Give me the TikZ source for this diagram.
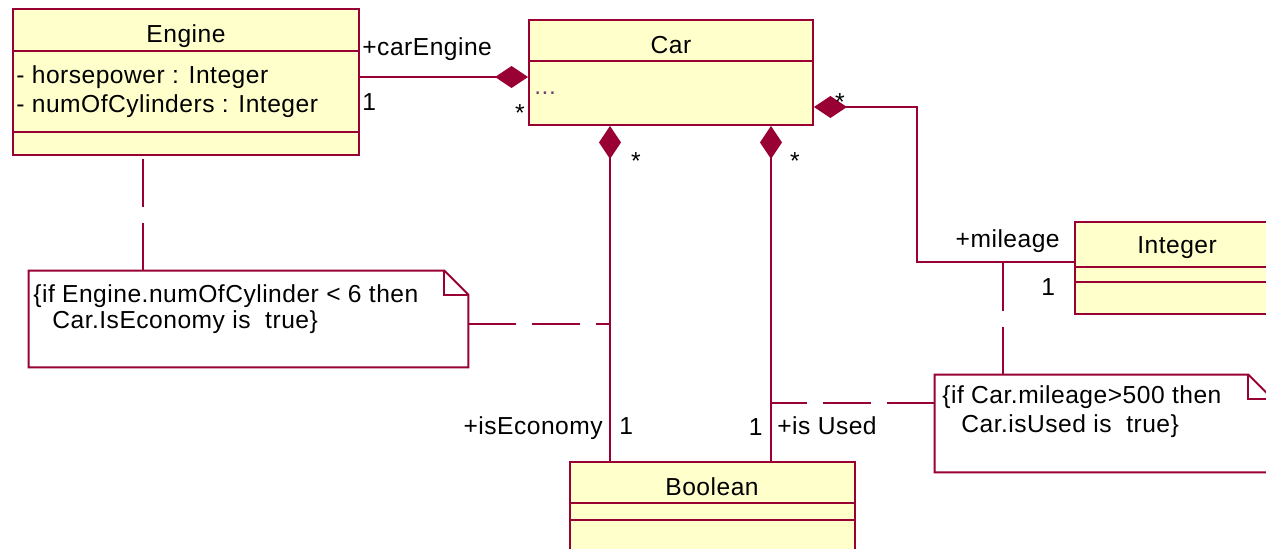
\documentclass[tikz,border=0pt]{standalone}
\usepackage{fontspec}
\setmainfont{Liberation Sans}[LetterSpace=2]
\usetikzlibrary{arrows.meta,fit,calc}

\definecolor{umlred}{RGB}{153,0,51}
\definecolor{umlfill}{RGB}{255,255,204}
\definecolor{umldots}{RGB}{110,70,110}

\tikzset{
    classbox/.style={draw=umlred, fill=umlfill, line width=1.1pt, inner sep=0pt},
    umlline/.style={draw=umlred, line width=1.1pt},
    anchorline/.style={umlline, dash pattern=on 0.96cm off 0.32cm},
    composite/.style={umlline, -{Diamond[length=0.66cm, width=0.44cm]}},
    txt/.style={inner sep=0pt, font=\fontsize{14}{17}\selectfont, anchor=base west},
}

\begin{document}
\begin{tikzpicture}[x=0.02cm, y=-0.02cm]

\useasboundingbox (0,0) rectangle (1266,548);
\clip (0,0) rectangle (1266,548);

% classes
\node[classbox, fit={(13,9) (359,155)}] (engine) {};
\node[classbox, fit={(529,20) (813,125)}] (car) {};
\node[classbox, fit={(1075,222) (1280,314)}] (integer) {};
\node[classbox, fit={(570,462) (855,570)}] (boolean) {};

% compartments
\foreach \cls/\d in {engine/43, engine/124, car/42, integer/46, integer/61, boolean/42, boolean/59}
{
    \draw[umlline] ($(\cls.north west)+(0,\d)$) -- ($(\cls.north east)+(0,\d)$);
}

\node[txt, anchor=base] (engineName) at (186,42) {Engine};
\node[txt] (engineHp) at (16,83) {- horsepower : Integer};
\node[txt] (engineCyl) at (16,112) {- numOfCylinders : Integer};
\node[txt, anchor=base] (carName) at (671,53) {Car};
\node[txt, text=umldots] (carDots) at (534,94) {...};
\node[txt, anchor=base] (integerName) at (1177,253) {Integer};
\node[txt, anchor=base] (booleanName) at (712,495) {Boolean};

% notes
\node[fit={(29,271) (468,367)}, inner sep=0pt] (noteEconomy) {};
\node[fit={(935,375) (1272,472)}, inner sep=0pt] (noteUsed) {};
\foreach \n in {noteEconomy, noteUsed}
{
    \draw[umlline, fill=white] (\n.north west) -- ($(\n.north east)+(-24,0)$)
        -- ($(\n.north east)+(0,24)$) -- (\n.south east) -- (\n.south west) -- cycle;
    \draw[umlline] ($(\n.north east)+(-24,0)$) |- ($(\n.north east)+(0,24)$);
}

\node[txt] (noteEconomyA) at (33,302) {\{if Engine.numOfCylinder < 6 then};
\node[txt] (noteEconomyB) at (52,328) {Car.IsEconomy is~ true\}};
\node[txt] (noteUsedA) at (942,403) {\{if Car.mileage>500 then};
\node[txt] (noteUsedB) at (961,432) {Car.isUsed is~ true\}};

% compositions
\coordinate (rowEngine) at (0,77);
\coordinate (colEconomy) at (610,0);
\coordinate (colUsed) at (771,0);
\coordinate (rowMileage) at (0,262);
\coordinate (bendMileage) at (917,107);

\draw[composite] (engine.east |- rowEngine) -- (car.west |- rowEngine);
\draw[composite] (boolean.north -| colEconomy) -- (car.south -| colEconomy);
\draw[composite] (boolean.north -| colUsed) -- (car.south -| colUsed);
\draw[composite] (integer.west |- rowMileage) -| (bendMileage) -- (car.east |- bendMileage);

% constraint anchors
\coordinate (colEngineNote) at (143,0);
\coordinate (rowEconomyNote) at (0,324);
\coordinate (rowUsedNote) at (0,403);
\coordinate (colMileageNote) at (1003,0);

\draw[anchorline] (noteEconomy.north -| colEngineNote) -- (engine.south -| colEngineNote);
\draw[anchorline] (noteEconomy.east |- rowEconomyNote) -- (colEconomy |- rowEconomyNote);
\draw[anchorline] (noteUsed.west |- rowUsedNote) -- (colUsed |- rowUsedNote);
\draw[anchorline] (noteUsed.north -| colMileageNote) -- (colMileageNote |- rowMileage);

% roles and multiplicities
\node[txt] (roleCarEngine) at (362,55) {+carEngine};
\node[txt] (oneEngine) at (362,110) {1};
\node[txt, anchor=base] (multCarEngine) at (520,121) {*};
\node[txt, anchor=base] (multEconomy) at (636,169) {*};
\node[txt, anchor=base] (multUsed) at (795,169) {*};
\node[txt, anchor=base] (multMileage) at (840,110) {*};
\node[txt, anchor=base east] (roleMileage) at (1060,247) {+mileage};
\node[txt] (oneMileage) at (1041,295) {1};
\node[txt, anchor=base east] (roleEconomy) at (603,434) {+isEconomy};
\node[txt] (oneEconomy) at (619,434) {1};
\node[txt, anchor=base east] (oneUsed) at (763,435) {1};
\node[txt] (roleUsed) at (777,434) {+is Used};

\end{tikzpicture}
\end{document}
